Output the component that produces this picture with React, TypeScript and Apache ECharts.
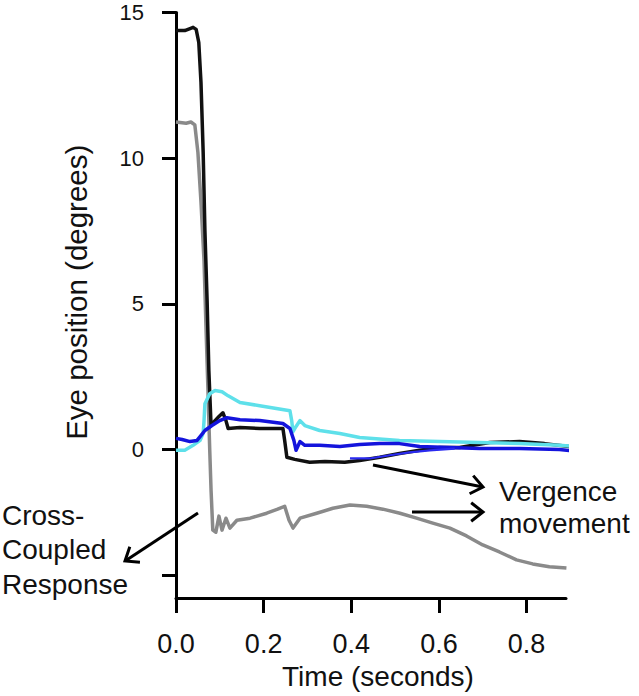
import React, { useEffect, useRef } from "react";
import * as echarts from "echarts";

// Time (s), eye position (deg) pairs
const blackTrace: [number, number][] = [
  [0, 14.38], [0.02, 14.38], [0.032, 14.45], [0.039, 14.49], [0.046, 14.42], [0.052, 13.97],
  [0.057, 12.6], [0.062, 10.2], [0.066, 7.5], [0.071, 5.1], [0.075, 2.7], [0.08, 0.82],
  [0.089, 0.99], [0.098, 1.13], [0.107, 1.26], [0.114, 0.99], [0.119, 0.72], [0.146, 0.75],
  [0.191, 0.72], [0.244, 0.72], [0.248, 0.31], [0.253, -0.27], [0.271, -0.34], [0.305, -0.44],
  [0.34, -0.41], [0.385, -0.44], [0.419, -0.38], [0.465, -0.27], [0.51, -0.14], [0.556, -0.03],
  [0.602, 0.07], [0.647, 0.07], [0.716, 0.24], [0.784, 0.27], [0.841, 0.2], [0.898, 0.1], [0.96, 0.07],
];

const grayTrace: [number, number][] = [
  [0, 11.24], [0.023, 11.2], [0.034, 11.24], [0.043, 11.14], [0.05, 10.2], [0.057, 8.5],
  [0.064, 6.46], [0.068, 4.41], [0.073, 2.0], [0.077, -0.03], [0.08, -1.4], [0.084, -2.77],
  [0.091, -2.84], [0.098, -2.29], [0.105, -2.77], [0.114, -2.36], [0.123, -2.7], [0.139, -2.43],
  [0.169, -2.36], [0.207, -2.19], [0.232, -2.05], [0.248, -1.95], [0.258, -2.43], [0.267, -2.7],
  [0.283, -2.36], [0.321, -2.19], [0.358, -2.02], [0.397, -1.91], [0.435, -1.95], [0.472, -2.05],
  [0.511, -2.19], [0.549, -2.36], [0.586, -2.53], [0.625, -2.7], [0.663, -2.97], [0.7, -3.28],
  [0.738, -3.52], [0.777, -3.79], [0.814, -3.93], [0.852, -4.03], [0.891, -4.07],
];

const cyanTrace: [number, number][] = [
  [0, -0.03], [0.02, -0.03], [0.039, 0.14], [0.055, 0.31], [0.062, 0.55], [0.064, 0.99],
  [0.066, 1.57], [0.077, 1.91], [0.089, 2.02], [0.105, 1.98], [0.119, 1.84], [0.146, 1.61],
  [0.191, 1.5], [0.26, 1.33], [0.264, 0.99], [0.267, 0.61], [0.274, 0.79], [0.283, 0.99],
  [0.294, 0.82], [0.328, 0.65], [0.374, 0.55], [0.419, 0.41], [0.51, 0.31], [0.602, 0.27],
  [0.693, 0.24], [0.784, 0.2], [0.875, 0.14], [0.921, 0.1], [0.96, 0.03],
];

const blueTrace: [number, number][] = [
  [0, 0.38], [0.014, 0.34], [0.032, 0.27], [0.048, 0.31], [0.055, 0.44], [0.066, 0.65],
  [0.082, 0.82], [0.1, 0.99], [0.116, 1.09], [0.146, 1.02], [0.191, 0.99], [0.244, 0.89],
  [0.26, 0.72], [0.269, 0.31], [0.274, -0.03], [0.283, 0.27], [0.294, 0.14], [0.328, 0.14],
  [0.374, 0.1], [0.419, 0.17], [0.465, 0.2], [0.51, 0.2], [0.556, 0.1], [0.624, 0.07],
  [0.693, 0.03], [0.784, 0.03], [0.875, 0], [0.921, -0.07], [0.96, -0.1],
];

const blueThinTrace: [number, number][] = [
  [0.397, -0.31], [0.442, -0.31], [0.488, -0.2], [0.533, -0.1], [0.579, -0.03], [0.636, 0.03],
];

const xTickValues = [0, 0.2, 0.4, 0.6, 0.8];
const yLabelValues = [0, 5, 10, 15];
const yTickValues = [-4.33, 0, 5, 10, 15];

const FONT = "Liberation Sans, Arial, sans-serif";

function arrow(x1: number, y1: number, x2: number, y2: number) {
  const dx = x2 - x1;
  const dy = y2 - y1;
  const len = Math.sqrt(dx * dx + dy * dy);
  const ux = dx / len;
  const uy = dy / len;
  const L = 15;
  const a = (38 * Math.PI) / 180;
  const rot = (ang: number) => [
    -(ux * Math.cos(ang) - uy * Math.sin(ang)) * L,
    -(ux * Math.sin(ang) + uy * Math.cos(ang)) * L,
  ];
  const w1 = rot(a);
  const w2 = rot(-a);
  return [
    {
      type: "line",
      shape: { x1, y1, x2: x2 - ux * 1.5, y2: y2 - uy * 1.5 },
      style: { stroke: "#000", lineWidth: 3 },
      z: 100,
    },
    {
      type: "polyline",
      shape: { points: [[x2 + w1[0], y2 + w1[1]], [x2, y2], [x2 + w2[0], y2 + w2[1]]] },
      style: { stroke: "#000", lineWidth: 3, fill: "none", lineJoin: "miter" },
      z: 100,
    },
  ];
}

function textEl(text: string, x: number, y: number) {
  return {
    type: "text",
    x,
    y,
    style: { text, fill: "#111", font: `28px ${FONT}`, textAlign: "left", textVerticalAlign: "middle" },
    z: 100,
  };
}

export default function App() {
  const ref = useRef<HTMLDivElement>(null);
  useEffect(() => {
    if (!ref.current) return;
    const chart = echarts.init(ref.current, undefined, { renderer: "svg" });
    const lineSeries = (data: [number, number][], color: string, width = 3.5) => ({
      type: "line",
      data,
      showSymbol: false,
      symbol: "none",
      clip: false,
      lineStyle: { color, width, join: "round" },
      silent: true,
    });
    chart.setOption({
      animation: false,
      backgroundColor: "#fff",
      grid: { left: 176, right: 73, top: 12.5, bottom: 98, containLabel: false, outerBoundsMode: "none" },
      xAxis: {
        type: "value",
        min: 0,
        max: 0.89,
        name: "Time (seconds)",
        nameLocation: "middle",
        nameGap: 64,
        nameTextStyle: { fontFamily: FONT, fontSize: 28, color: "#111", padding: [0, 0, 0, 14] },
        axisLine: { show: true, onZero: false, lineStyle: { color: "#000", width: 3 } },
        axisTick: { show: true, length: 15, lineStyle: { color: "#000", width: 3 }, customValues: xTickValues },
        axisLabel: {
          customValues: xTickValues,
          formatter: (v: number) => v.toFixed(1),
          fontFamily: FONT,
          fontSize: 27,
          color: "#111",
          margin: 32,
        },
        splitLine: { show: false },
      },
      yAxis: {
        type: "value",
        min: -5.1,
        max: 15,
        name: "Eye position (degrees)",
        nameLocation: "middle",
        nameGap: 85,
        nameTextStyle: { fontFamily: FONT, fontSize: 29.5, color: "#111", padding: [0, 0, 0, 26] },
        axisLine: { show: true, onZero: false, lineStyle: { color: "#000", width: 3 } },
        axisTick: { show: true, length: 14, lineStyle: { color: "#000", width: 3 }, customValues: yTickValues },
        axisLabel: {
          customValues: yLabelValues,
          fontFamily: FONT,
          fontSize: 22,
          lineHeight: 18,
          color: "#111",
          margin: 32,
        },
        splitLine: { show: false },
      },
      series: [
        lineSeries(grayTrace, "#8a8a8a"),
        lineSeries(blackTrace, "#111111"),
        lineSeries(cyanTrace, "#5ee0ea"),
        lineSeries(blueTrace, "#1414dc"),
        lineSeries(blueThinTrace, "#2a2af0", 2.2),
      ],
      graphic: [
        ...arrow(373, 465, 483, 487),
        ...arrow(412, 512, 483, 512),
        ...arrow(198, 513, 125, 561),
        textEl("Vergence", 499, 491),
        textEl("movement", 499, 523),
        textEl("Cross-", 2, 515),
        textEl("Coupled", 2, 549),
        textEl("Response", 2, 584),
      ],
    });
    return () => chart.dispose();
  }, []);
  return <div ref={ref} style={{ position: "absolute", left: 0, top: 0, width: 639, height: 696 }} />;
}
